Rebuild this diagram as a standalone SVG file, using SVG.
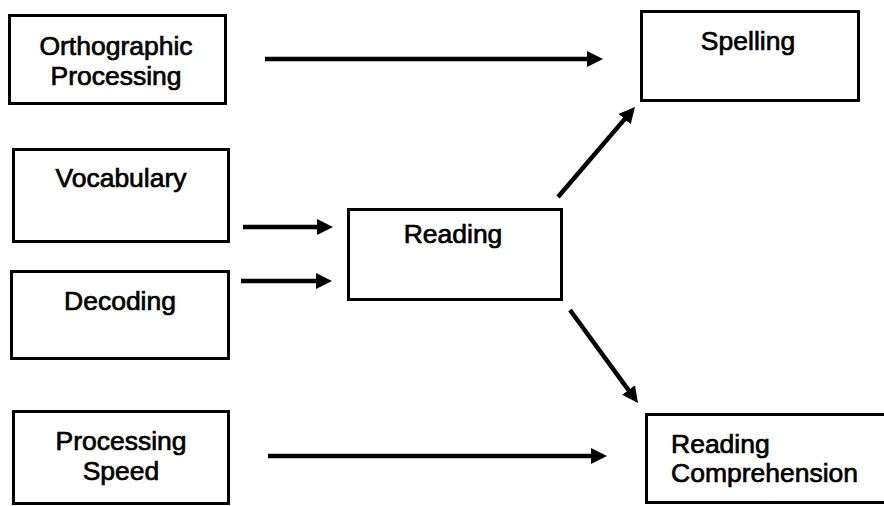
<svg xmlns="http://www.w3.org/2000/svg" width="884" height="506" viewBox="0 0 884 506">
  <style>
    .box { fill: #fff; stroke: #000; stroke-width: 3; }
    .lbl { font-family: "Liberation Sans", Arial, sans-serif; font-size: 26.5px; fill: #000; stroke: #000; stroke-width: 0.7; }
    .mid { text-anchor: middle; }
    .edge { stroke: #000; stroke-width: 4.5; fill: none; marker-end: url(#head); }
  </style>
  <defs>
    <marker id="head" markerUnits="userSpaceOnUse" viewBox="0 0 16 16" refX="4" refY="8" markerWidth="16" markerHeight="16" orient="auto">
      <path d="M0,0 L16,8 L0,16 z" fill="#000"/>
    </marker>
  </defs>
  <rect width="884" height="506" fill="#fff"/>

  <g id="orthographic">
    <rect class="box" x="9.5" y="15.5" width="216" height="88"/>
    <text class="lbl mid" x="116" y="55">Orthographic</text>
    <text class="lbl mid" x="116" y="85">Processing</text>
  </g>

  <g id="spelling">
    <rect class="box" x="641.5" y="11.5" width="217" height="89"/>
    <text class="lbl mid" x="748" y="50">Spelling</text>
  </g>

  <g id="vocabulary">
    <rect class="box" x="13.5" y="149.5" width="215" height="92"/>
    <text class="lbl mid" x="121" y="187">Vocabulary</text>
  </g>

  <g id="decoding">
    <rect class="box" x="11.5" y="271.5" width="217" height="87"/>
    <text class="lbl mid" x="120" y="310">Decoding</text>
  </g>

  <g id="reading">
    <rect class="box" x="348.5" y="209.5" width="213" height="90"/>
    <text class="lbl mid" x="453" y="243">Reading</text>
  </g>

  <g id="processing-speed">
    <rect class="box" x="13.5" y="411.5" width="215" height="92"/>
    <text class="lbl mid" x="121" y="450">Processing</text>
    <text class="lbl mid" x="121" y="480">Speed</text>
  </g>

  <g id="reading-comprehension">
    <rect class="box" x="646.5" y="414.5" width="242" height="88"/>
    <text class="lbl" x="671" y="453">Reading</text>
    <text class="lbl" x="671" y="482">Comprehension</text>
  </g>

  <g id="connectors">
    <line class="edge" x1="265" y1="59" x2="591" y2="59"/>
    <line class="edge" x1="243" y1="227" x2="321" y2="227"/>
    <line class="edge" x1="241" y1="281" x2="320" y2="281"/>
    <line class="edge" x1="268" y1="456" x2="595" y2="456"/>
    <line class="edge" x1="558" y1="197" x2="627.2" y2="116.1"/>
    <line class="edge" x1="570" y1="310" x2="630.9" y2="393.3"/>
  </g>
</svg>
